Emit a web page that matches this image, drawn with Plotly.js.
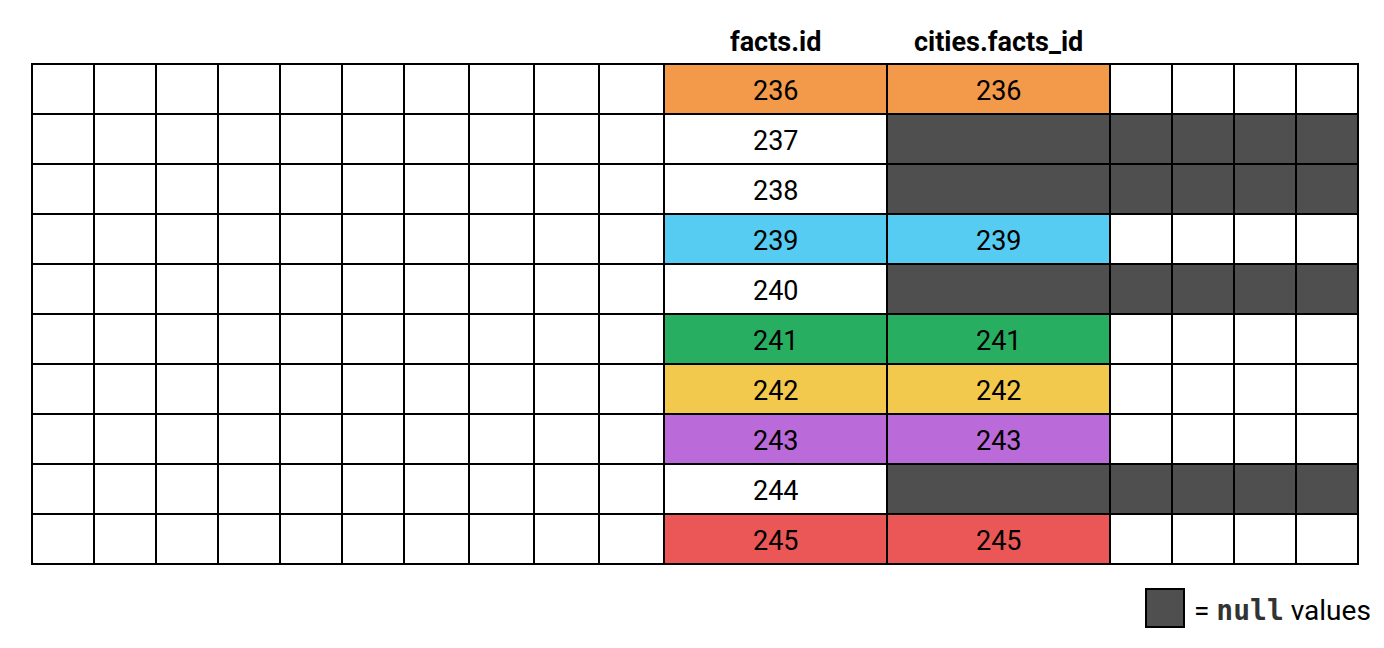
<!DOCTYPE html>
<html>
<head>
<meta charset="utf-8">
<script src="https://cdn.plot.ly/plotly-3.0.1.min.js"></script>
<style>
  html, body { margin: 0; padding: 0; background: #fff; }
  #chart { width: 1384px; height: 648px; }
</style>
</head>
<body>
<div id="chart"></div>
<script>
// rows of the joined table: left key and right key (null = no match)
const factsIds = [236, 237, 238, 239, 240, 241, 242, 243, 244, 245];
const citiesFactsIds = [236, null, null, 239, null, 241, 242, 243, null, 245];
const headers = ["facts.id", "cities.facts_id"];
// one colour per matched key, in row order
const matchColors = ["#F2994A", "#56CCF2", "#27AE60", "#F2C94C", "#BB6BD9", "#EB5757"];

const WHITE = "#ffffff";
const NULL_COLOR = "#4F4F4F";
const FONT = "Roboto, 'Open Sans', sans-serif";

// grid geometry (pixels)
const GRID_LEFT = 32;
const GRID_TOP = 64;
const ROW_H = 50;
const COL_WIDTHS = [62, 62, 62, 62, 62, 62, 65, 65, 65, 65, 223, 223, 62, 62, 62, 62];
const FACTS_COL = 10;
const CITIES_COL = 11;

const xEdges = [GRID_LEFT];
COL_WIDTHS.forEach((w) => xEdges.push(xEdges[xEdges.length - 1] + w));
const yEdges = factsIds.map((_, i) => GRID_TOP + i * ROW_H);
yEdges.push(GRID_TOP + factsIds.length * ROW_H);

const W = 1384, H = 648;
const plotL = GRID_LEFT - 1, plotR = xEdges[xEdges.length - 1] + 1;
const plotT = GRID_TOP - 1, plotB = yEdges[yEdges.length - 1] + 1;
const px2x = (p) => (p - plotL) / (plotR - plotL);
const px2y = (p) => (plotB - p) / (plotB - plotT);
const colMid = (c) => (xEdges[c] + xEdges[c + 1]) / 2;
const rowMid = (r) => (yEdges[r] + yEdges[r + 1]) / 2;

// colour codes: 0 white, 1 null, 2.. match colours
const palette = [WHITE, NULL_COLOR, ...matchColors];
let matchIdx = 0;
const z = factsIds.map((id, r) => {
  const right = citiesFactsIds[r];
  const code = right === null ? 0 : 2 + matchIdx++;
  return COL_WIDTHS.map((_, c) => {
    if (c < FACTS_COL) return 0;
    if (c === FACTS_COL) return code;
    if (c === CITIES_COL) return right === null ? 1 : code;
    return right === null ? 1 : 0;
  });
});

const colorscale = palette.map((c, i) => [i / (palette.length - 1), c]);

const trace = {
  type: "heatmap",
  x: xEdges,
  y: yEdges,
  z: z,
  colorscale: colorscale,
  zmin: 0,
  zmax: palette.length - 1,
  showscale: false,
  xgap: 2,
  ygap: 2,
  hoverinfo: "skip",
};

// cell labels
const cellFont = { family: FONT, size: 27, color: "#000" };
const cellAnnotations = [];
factsIds.forEach((id, r) => {
  cellAnnotations.push({
    text: String(id), xref: "x", yref: "y", x: colMid(FACTS_COL), y: rowMid(r),
    yshift: -2, showarrow: false, font: cellFont,
  });
  if (citiesFactsIds[r] !== null) {
    cellAnnotations.push({
      text: String(citiesFactsIds[r]), xref: "x", yref: "y", x: colMid(CITIES_COL), y: rowMid(r),
      yshift: -2, showarrow: false, font: cellFont,
    });
  }
});

const headerAnnotations = headers.map((h, i) => ({
  text: "<b>" + h + "</b>",
  xref: "x", x: colMid(FACTS_COL + i),
  yref: "paper", y: 1, yanchor: "middle", yshift: 21,
  showarrow: false,
  font: { family: FONT, size: 27, color: "#000" },
}));

const legendAnnotation = {
  text: '= <span style="font-family:DejaVu Sans Mono;font-weight:bold;color:#333">null</span> values',
  xref: "paper", x: px2x(1192), xanchor: "left",
  yref: "paper", y: px2y(610), yanchor: "middle",
  showarrow: false,
  font: { family: FONT, size: 28, color: "#000" },
};

const layout = {
  width: W,
  height: H,
  paper_bgcolor: "#fff",
  plot_bgcolor: "#000",
  margin: { l: plotL, r: W - plotR, t: plotT, b: H - plotB, pad: 0 },
  xaxis: { range: [plotL, plotR], visible: false, fixedrange: true, showgrid: false, zeroline: false },
  yaxis: { range: [plotB, plotT], visible: false, fixedrange: true, showgrid: false, zeroline: false },
  showlegend: false,
  annotations: [...cellAnnotations, ...headerAnnotations, legendAnnotation],
  shapes: [
    // legend swatch for null cells
    {
      type: "rect", xref: "paper", yref: "paper",
      x0: px2x(1146), x1: px2x(1184), y0: px2y(589), y1: px2y(627),
      fillcolor: NULL_COLOR, line: { color: "#000", width: 2 },
    },
  ],
};

Plotly.newPlot("chart", [trace], layout, { displayModeBar: false, staticPlot: true });
</script>
</body>
</html>
